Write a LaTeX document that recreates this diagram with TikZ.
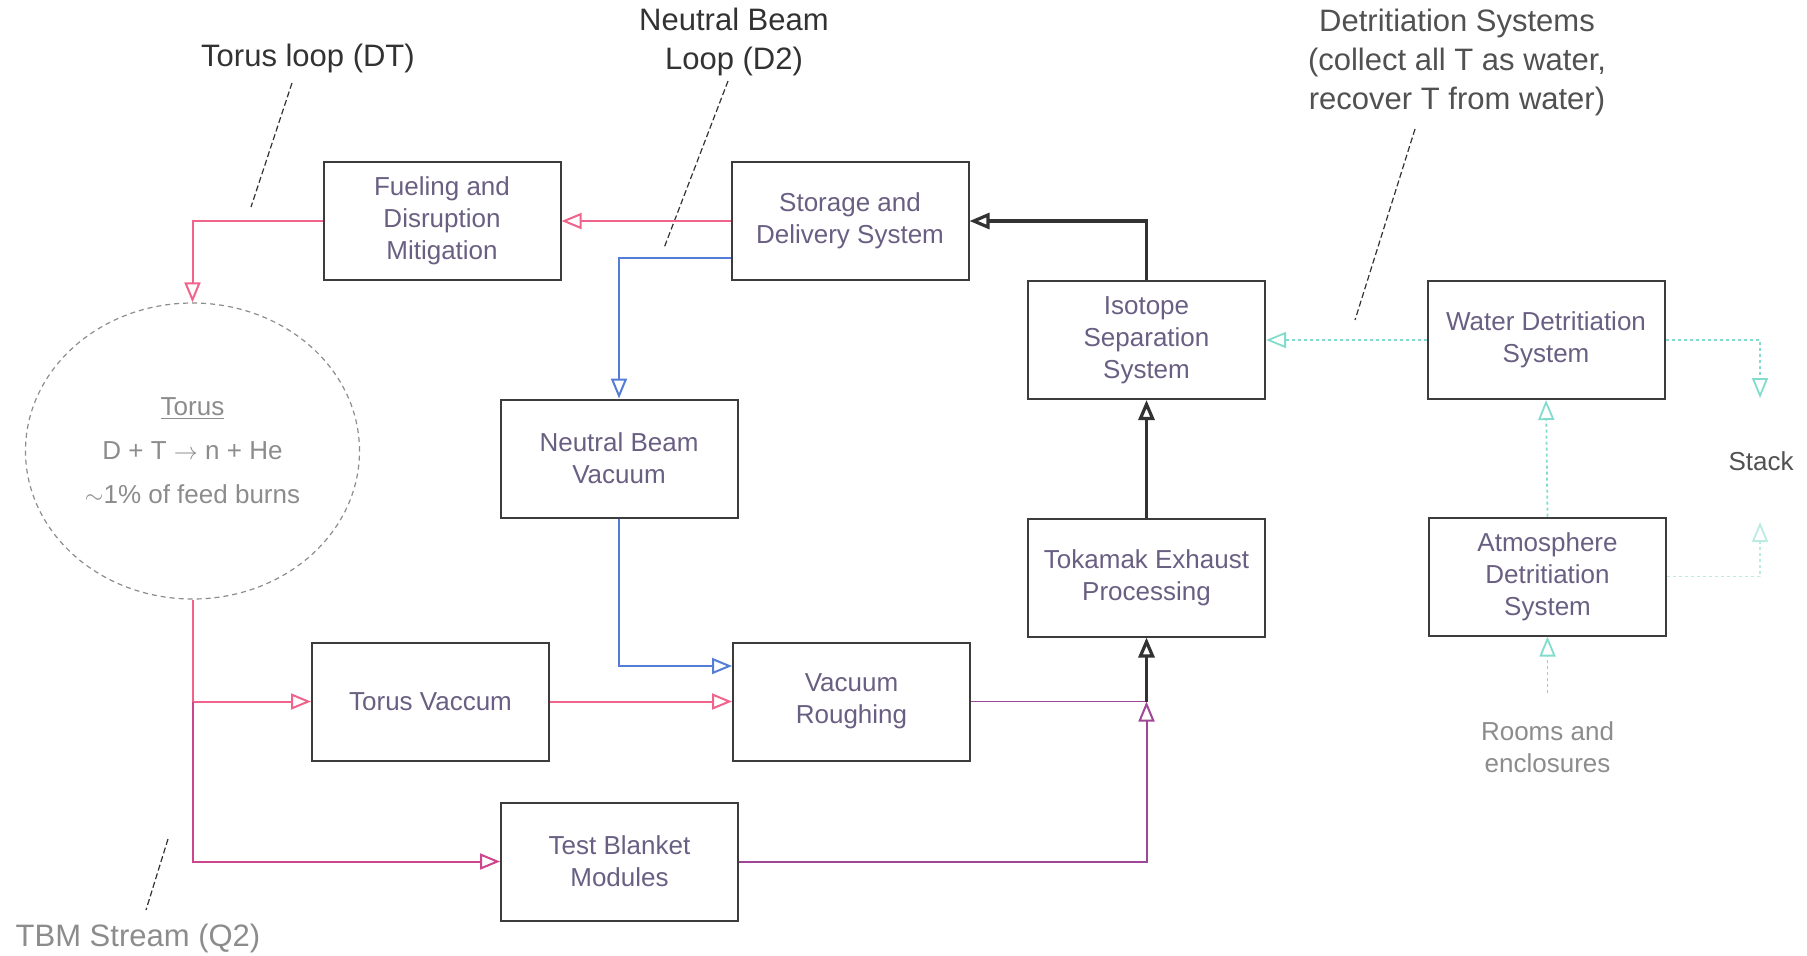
\documentclass[tikz,border=0pt]{standalone}
\usepackage{fontspec}
\setmainfont{Liberation Sans}
\usetikzlibrary{arrows.meta,shapes.geometric}
\definecolor{pinkc}{RGB}{240,100,140}
\definecolor{magc}{RGB}{205,70,140}
\definecolor{bluec}{RGB}{85,125,215}
\definecolor{purpc}{RGB}{160,70,150}
\definecolor{cyanc}{RGB}{130,220,205}
\definecolor{boxtxt}{RGB}{105,95,130}
\definecolor{darkc}{RGB}{50,50,50}
\definecolor{edgec}{RGB}{60,60,60}
\definecolor{greyt}{RGB}{140,140,140}
\begin{document}
\begin{tikzpicture}[x=0.5pt,y=-0.5pt,
  box/.style={draw=edgec, line width=1pt, minimum width=118.5pt, minimum height=59pt,
    align=center, text=boxtxt, font=\fontsize{13}{16}\selectfont, inner sep=2pt},
  title/.style={align=center, text=darkc, font=\fontsize{15.5}{19.5}\selectfont, inner sep=0pt},
  small/.style={align=center, font=\fontsize{13}{16}\selectfont, inner sep=0pt},
  tip/.style={-{Triangle[open,length=10pt,width=8pt]}},
  conn/.style={line width=1pt},
  dark/.style={draw=darkc, line width=1.6pt},
  cyanl/.style={draw=cyanc, line width=0.9pt, dash pattern=on 1.5pt off 1.5pt},
  leader/.style={draw=darkc, line width=0.6pt, dash pattern=on 3pt off 1.5pt}]
\useasboundingbox (0,0) rectangle (1807,955);

% boxes
\node[box] (fuel) at (442,221) {Fueling and\\Disruption\\Mitigation};
\node[box] (stor) at (850,221) {Storage and\\Delivery System};
\node[box] (iso)  at (1146.5,340) {Isotope\\Separation\\System};
\node[box] (wds)  at (1546,340) {Water Detritiation\\System};
\node[box] (nbv)  at (619,458.5) {Neutral Beam\\Vacuum};
\node[box] (tep)  at (1146.5,577.5) {Tokamak Exhaust\\Processing};
\node[box] (ads)  at (1547.5,576.5) {Atmosphere\\Detritiation\\System};
\node[box] (tv)   at (430.5,701.5) {Torus Vaccum};
\node[box] (vr)   at (851.5,701.5) {Vacuum\\Roughing};
\node[box] (tbm)  at (619.5,861.5) {Test Blanket\\Modules};

% torus
\node[ellipse, draw=greyt, line width=0.6pt, dash pattern=on 2.5pt off 2pt,
  minimum width=167pt, minimum height=148pt, inner sep=0pt,
  align=center, text=greyt, font=\fontsize{13}{22}\selectfont] (torus) at (192.5,451)
  {\underline{Torus}\\D + T $\rightarrow$ n + He\\$\sim$1\% of feed burns};

% titles
\node[title] (tdt) at (308,58) {Torus loop (DT)};
\node[title] (tnb) at (734,42) {Neutral Beam\\Loop (D2)};
\node[title, text=darkc!85] (tdet) at (1457,62) {Detritiation Systems\\(collect all T as water,\\recover T from water)};
\node[title, text=greyt] (ttbm) at (138,938) {TBM Stream (Q2)};
\node[small, text=darkc!85] (stack) at (1761,461) {Stack};
\node[small, text=greyt] (rooms) at (1547.5,747) {Rooms and\\enclosures};

% leaders
\draw[leader] (292,83) -- (251,207);
\draw[leader] (728,81) -- (664,248);
\draw[leader] (1415,129) -- (1355,320);
\draw[leader] (168,839) -- (146,910);

% torus loop (pink)
\draw[conn, pinkc, tip] (stor.west) -- (fuel.east);
\draw[conn, pinkc, tip] (fuel.west) -| (torus.north);
\coordinate (br) at (192.5,701.5);
\draw[conn, pinkc] (torus.south) -- (br);
\draw[conn, pinkc, tip] (br) -- (tv.west);
\draw[conn, magc, tip] (br) |- (tbm.west);
\draw[conn, pinkc, tip] (tv.east) -- (vr.west);

% neutral beam loop (blue)
\draw[conn, bluec, tip] ([yshift=-18.5pt]stor.west) -| (nbv.north);
\draw[conn, bluec, tip] (nbv.south) |- ([yshift=17.75pt]vr.west);

% exhaust path
\coordinate (j) at (1146.5,701.5);
\draw[line width=0.9pt, purpc] (vr.east) -- (j);
\draw[conn, purpc, tip] (tbm.east) -| (j);
\draw[dark, tip] (j) -- (tep.south);
\draw[dark, tip] (tep.north) -- (iso.south);
\draw[dark, tip] (iso.north) |- (stor.east);

% detritiation (cyan)
\coordinate (stk) at (1760,398);
\coordinate (stk2) at (1760,522);
\draw[cyanl, tip] (wds.west) -- (iso.east);
\draw[cyanl, tip] (wds.east) -| (stk);
\draw[cyanl, draw=cyanc!55, tip] (ads.east) -| (stk2);
\draw[cyanl, tip] (ads.north) -- (wds.south);
\draw[cyanl, tip] ([yshift=14pt]rooms.north) -- (ads.south);
\end{tikzpicture}
\end{document}
